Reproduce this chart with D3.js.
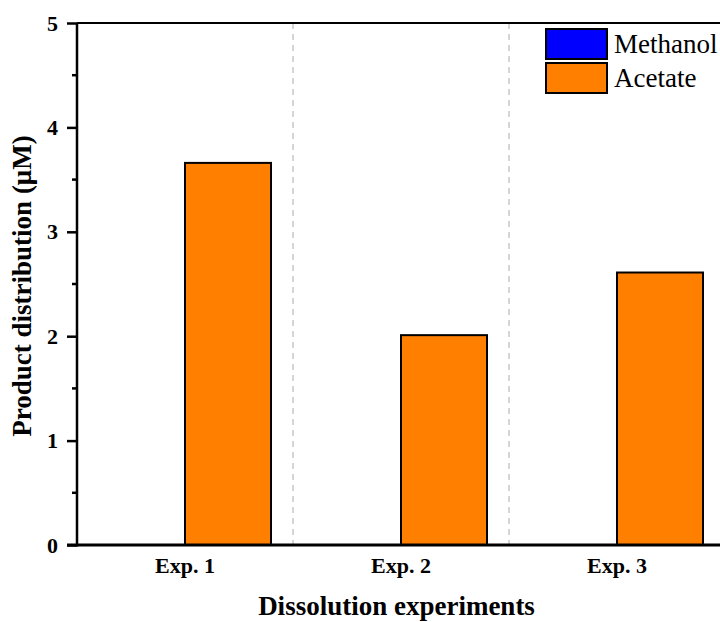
<!DOCTYPE html>
<html>
<head>
<meta charset="utf-8">
<script src="https://cdn.jsdelivr.net/npm/d3@7"></script>
<style>
  body { margin: 0; background: #fff; }
  svg { display: block; font-family: "Liberation Serif", "Times New Roman", serif; }
</style>
</head>
<body>
<div id="chart"></div>
<script>
const experiments = ["Exp. 1", "Exp. 2", "Exp. 3"];
const seriesNames = ["Methanol", "Acetate"];
const methanol = [0, 0, 0];
const acetate = [3.66, 2.01, 2.61];
const seriesColors = ["#0000ff", "#ff8000"];
const yTicks = [0, 1, 2, 3, 4, 5];

const width = 720, height = 622;
const margin = {top: 23, right: -5, bottom: 77, left: 77};
const plotW = width - margin.left - margin.right;
const plotH = height - margin.top - margin.bottom;

const svg = d3.select("#chart").append("svg")
    .attr("width", width)
    .attr("height", height);

const g = svg.append("g")
    .attr("transform", "translate(" + margin.left + "," + margin.top + ")");

const x0 = d3.scaleBand().domain(experiments).range([0, plotW]).paddingInner(0).paddingOuter(0);
const x1 = d3.scaleBand().domain(seriesNames).range([22, x0.bandwidth() - 22]);
const y = d3.scaleLinear().domain([0, 5]).range([plotH, 0]);

// dashed group separators
g.selectAll(".sep")
    .data(experiments.slice(1))
    .enter().append("line")
    .attr("x1", d => x0(d)).attr("x2", d => x0(d))
    .attr("y1", 0).attr("y2", plotH)
    .attr("stroke", "#c8c8c8")
    .attr("stroke-width", 1.5)
    .attr("stroke-dasharray", "6,5");

// bars
const rows = experiments.map((e, i) => ({exp: e, values: [methanol[i], acetate[i]]}));
const groups = g.selectAll(".grp")
    .data(rows).enter().append("g")
    .attr("transform", d => "translate(" + x0(d.exp) + ",0)");

groups.selectAll("rect")
    .data(d => d.values.map((v, j) => ({name: seriesNames[j], v: v, c: seriesColors[j]})))
    .enter().append("rect")
    .attr("x", d => x1(d.name))
    .attr("y", d => y(d.v))
    .attr("width", x1.bandwidth())
    .attr("height", d => plotH - y(d.v))
    .attr("fill", d => d.c)
    .attr("stroke", d => d.v > 0 ? "#000" : "none")
    .attr("stroke-width", 2);

// top border
g.append("line")
    .attr("x1", 0).attr("x2", plotW + 10)
    .attr("y1", 0).attr("y2", 0)
    .attr("stroke", "#000").attr("stroke-width", 2);

// y axis
const yAxis = g.append("g")
    .call(d3.axisLeft(y).tickValues(yTicks).tickFormat(d3.format("d")).tickSize(10).tickPadding(9));
yAxis.select(".domain").attr("stroke-width", 2.5).attr("d", "M0," + (plotH + 1.5) + "V0");
yAxis.selectAll(".tick line").attr("stroke-width", 2.5);
yAxis.selectAll("text")
    .attr("font-family", "Liberation Serif, serif")
    .attr("font-weight", "bold")
    .attr("font-size", 22)
    .attr("fill", "#000");

// minor ticks
g.selectAll(".minor")
    .data(d3.range(0.5, 5, 1))
    .enter().append("line")
    .attr("x1", -5).attr("x2", 0)
    .attr("y1", d => y(d)).attr("y2", d => y(d))
    .attr("stroke", "#000").attr("stroke-width", 2.5);

// x axis
const xAxis = g.append("g")
    .attr("transform", "translate(0," + plotH + ")")
    .call(d3.axisBottom(x0).tickSize(0).tickPadding(12));
xAxis.select(".domain").attr("stroke-width", 3).attr("d", "M-10,0H" + (plotW + 10));
xAxis.selectAll("text")
    .attr("font-family", "Liberation Serif, serif")
    .attr("font-weight", "bold")
    .attr("font-size", 22)
    .attr("fill", "#000");

// axis titles
svg.append("text")
    .attr("x", margin.left + (720 - margin.left) / 2 - 2)
    .attr("y", 615)
    .attr("text-anchor", "middle")
    .attr("font-weight", "bold")
    .attr("font-size", 27)
    .text("Dissolution experiments");

svg.append("text")
    .attr("transform", "translate(31," + (margin.top + plotH / 2 + 2) + ") rotate(-90)")
    .attr("text-anchor", "middle")
    .attr("font-weight", "bold")
    .attr("font-size", 27)
    .text("Product distribution (μM)");

// legend
const legend = svg.append("g").attr("transform", "translate(546,29)");
const items = legend.selectAll(".item")
    .data(seriesNames).enter().append("g")
    .attr("transform", (d, i) => "translate(0," + i * 34 + ")");
items.append("rect")
    .attr("width", 61).attr("height", 30)
    .attr("fill", (d, i) => seriesColors[i])
    .attr("stroke", "#000").attr("stroke-width", 2);
items.append("text")
    .attr("x", 68).attr("y", 24)
    .attr("font-size", 27)
    .attr("fill", "#000")
    .text(d => d);
</script>
</body>
</html>
